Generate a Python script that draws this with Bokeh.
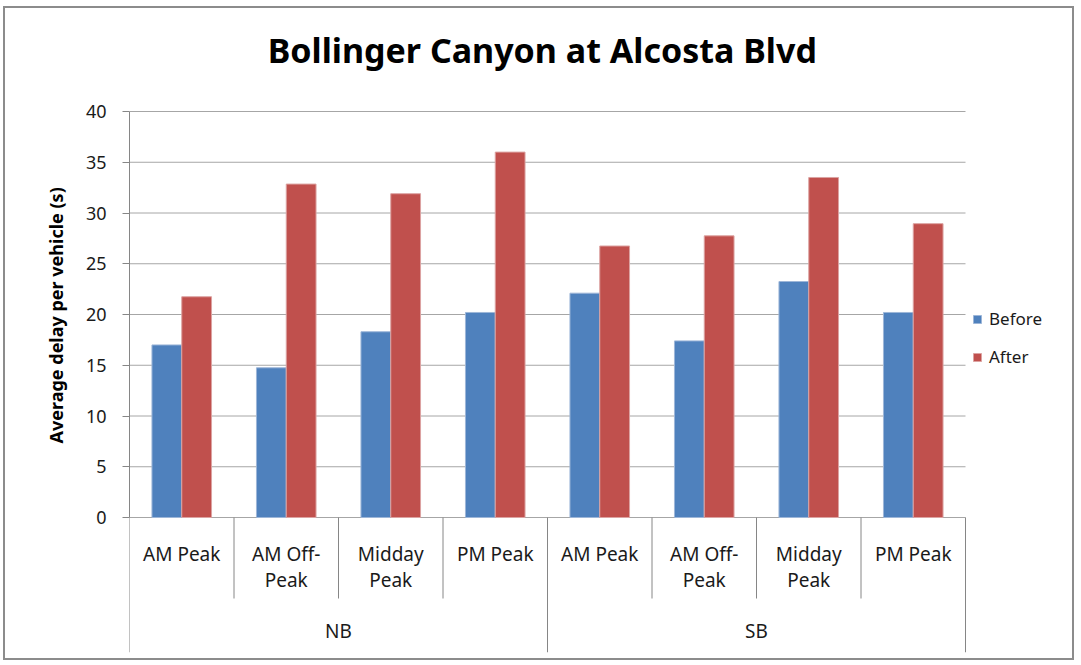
from bokeh.plotting import figure
from bokeh.models import (Range1d, FixedTicker, Legend, LegendItem,
                          ColumnDataSource, Title)
from bokeh.core.properties import value
from bokeh.embed import file_html
from bokeh.resources import INLINE

# ---- data ----
groups = ["NB", "SB"]
periods = ["AM Peak", "AM Off-Peak", "Midday Peak", "PM Peak"]
period_labels = ["AM Peak", "AM Off-\nPeak", "Midday\nPeak", "PM Peak"]
before = [17.0, 14.75, 18.3, 20.2, 22.1, 17.4, 23.25, 20.2]
after = [21.75, 32.85, 31.9, 36.0, 26.75, 27.75, 33.5, 28.95]
series = ["Before", "After"]
colors = ["#4F81BD", "#C0504D"]
y_ticks = [0, 5, 10, 15, 20, 25, 30, 35, 40]
title_text = "Bollinger Canyon at Alcosta Blvd"
y_title = "Average delay per vehicle (s)"

FONT = "Noto Sans"
n_per = len(periods)
n_cat = len(groups) * n_per
centers = [i + 0.5 for i in range(n_cat)]
labels = [lab for g in groups for lab in period_labels]
y_top, y_bot = max(y_ticks), min(y_ticks)

# layout (pixels) -> data extents
PX = 10.15                       # pixels per y unit
y_start, y_end = -13.3, y_top + 103 / PX
x_end = 947 / 104.5

p = figure(x_range=Range1d(0, x_end), y_range=Range1d(y_start, y_end),
           width=1071, height=654, output_backend="svg", toolbar_location=None,
           x_axis_location=None, title_location=None,
           min_border_left=124, min_border_right=0, min_border_top=0,
           min_border_bottom=10)
p.styles = {"border": "2px solid #8c8c8c", "margin-left": "3px", "margin-top": "6px"}
p.outline_line_color = None
p.xgrid.grid_line_color = None
p.ygrid.grid_line_color = None

# y axis
yax = p.yaxis[0]
yax.bounds = (y_bot, y_top)
yax.ticker = FixedTicker(ticks=y_ticks)
yax.minor_tick_line_color = None
yax.major_tick_in = 0
yax.major_tick_out = 7
yax.axis_line_color = "#868686"
yax.major_tick_line_color = "#868686"
yax.major_label_text_font = FONT
yax.major_label_text_font_size = "18px"
yax.major_label_text_color = "#1a1a1a"
yax.major_label_standoff = 16

p.add_layout(Title(text=y_title, align="left", offset=209, standoff=30,
                   text_font=FONT, text_font_size="18px", text_font_style="bold",
                   text_color="#000000"), "left")

# horizontal gridlines across the category area
p.segment(x0=0, x1=n_cat, y0=y_ticks, y1=y_ticks, line_color="#a6a6a6", line_width=1)

# bars
w = 0.285
src = ColumnDataSource(dict(xb=[c - w / 2 for c in centers], xa=[c + w / 2 for c in centers],
                            before=before, after=after))
r1 = p.vbar(x="xb", top="before", width=w, source=src,
            fill_color=colors[0], line_color="#9db6d8", line_width=1)
r2 = p.vbar(x="xa", top="after", width=w, source=src,
            fill_color=colors[1], line_color="#dca3a2", line_width=1)

# category separators (Excel multi-level axis)
edges = list(range(n_cat + 1))
p.segment(x0=edges, x1=edges, y0=0,
          y1=[-13.3 if e % n_per == 0 else -7.98 for e in edges],
          line_color="#868686", line_width=1)

# category labels
p.text(x=centers, y=-2.3, text=labels, text_font=value(FONT),
       text_font_size="19px", text_align="center", text_baseline="top",
       text_line_height=1.0, text_color="#1a1a1a")
gcenters = [n_per * (k + 0.5) for k in range(len(groups))]
p.text(x=gcenters, y=-11.15, text=groups, text_font=value(FONT),
       text_font_size="19px", text_align="center", text_baseline="middle",
       text_color="#1a1a1a")

# chart title
p.text(x=[n_cat / 2 - 0.05], y=[(517 - 49) / PX], text=[title_text], text_font=value(FONT),
       text_font_size="34px", text_font_style="bold", text_align="center",
       text_baseline="alphabetic", text_color="#000000")

legend = Legend(items=[LegendItem(label=series[0], renderers=[r1]),
                       LegendItem(label=series[1], renderers=[r2])],
                location=(843, 284), padding=0, margin=0, spacing=15,
                glyph_width=10, glyph_height=10, label_height=20, label_standoff=7,
                label_text_font=FONT, label_text_font_size="17px",
                label_text_color="#1a1a1a", border_line_color=None,
                background_fill_alpha=0)
p.add_layout(legend)

open("out.html", "w").write(file_html(p, INLINE))
